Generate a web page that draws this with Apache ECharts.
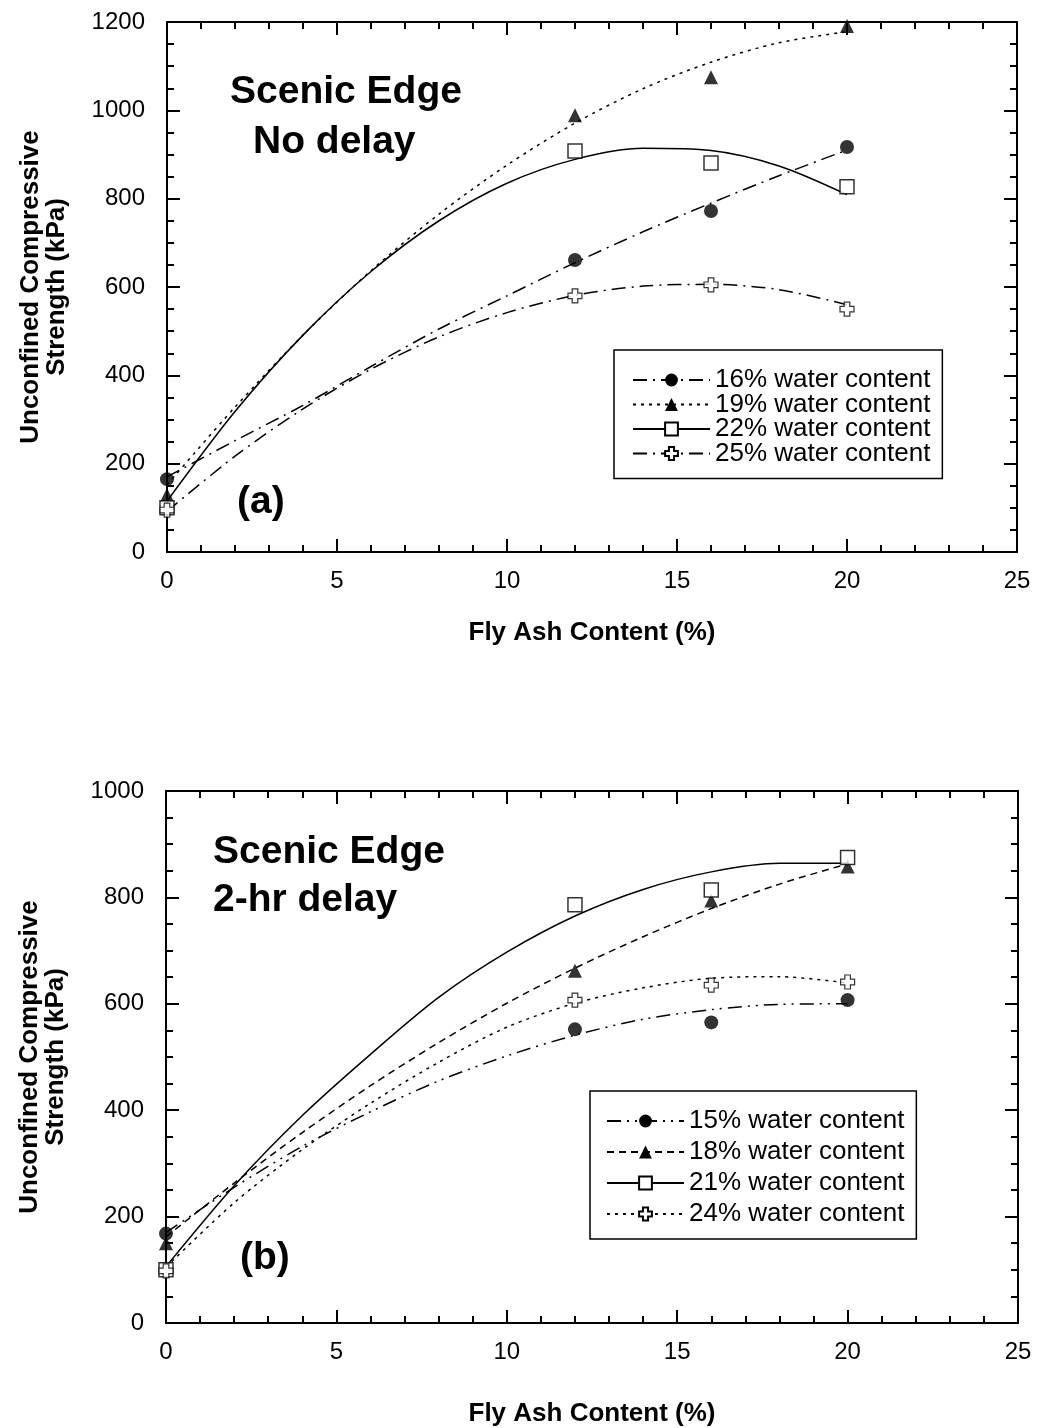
<!DOCTYPE html>
<html>
<head>
<meta charset="utf-8">
<script src="https://cdn.jsdelivr.net/npm/echarts@6/dist/echarts.min.js"></script>
<style>
  html, body { margin: 0; padding: 0; background: #fff; }
  #chart { width: 1037px; height: 1428px; }
</style>
</head>
<body>
<div id="chart"></div>
<script>
// measured points (fly ash %)
const ashContent = [0, 12, 16, 20]
const fitX = [0, 2, 4, 6, 8, 10, 12, 14, 16, 18, 20]

// (a) no delay
const noDelayNames = ['16% water content', '19% water content', '22% water content', '25% water content']
const noDelay16 = [165, 661, 772, 917]
const noDelay19 = [129, 989, 1075, 1191]
const noDelay22 = [100, 908, 881, 827]
const noDelay25 = [95, 580, 605, 550]
const noDelayFit16 = [170, 252, 332, 420, 505, 580, 655, 725, 790, 852, 910]
const noDelayFit19 = [152, 328, 491, 637, 765, 876, 971, 1049, 1109, 1153, 1178]
const noDelayFit22 = [115, 318, 491, 635, 750, 835, 889, 914, 909, 874, 809]
const noDelayFit25 = [92, 217, 324, 414, 487, 542, 581, 602, 606, 594, 560]

// (b) 2-hr delay
const delayNames = ['15% water content', '18% water content', '21% water content', '24% water content']
const delay15 = [168, 552, 565, 607]
const delay18 = [150, 662, 794, 858]
const delay21 = [100, 786, 814, 875]
const delay24 = [98, 607, 635, 641]
const delayFit15 = [170, 255, 332, 397, 455, 502, 541, 571, 589, 599, 600]
const delayFit18 = [162, 263, 358, 446, 527, 601, 667, 726, 779, 825, 863]
const delayFit21 = [106, 258, 390, 505, 612, 697, 765, 815, 848, 864, 864]
const delayFit24 = [105, 226, 326, 413, 490, 556, 601, 630, 648, 651, 639]

const font = '"Liberation Sans", Arial, sans-serif'
const crossPath = 'path://M3,0H7V3H10V7H7V10H3V7H0V3H3Z'

const markers = {
  circle: { symbol: 'circle', itemStyle: { color: '#000' } },
  triangle: { symbol: 'triangle', itemStyle: { color: '#000' } },
  square: { symbol: 'rect', itemStyle: { color: '#fff', borderColor: '#000', borderWidth: 1.5 } },
  cross: { symbol: crossPath, itemStyle: { color: '#fff', borderColor: '#000', borderWidth: 1.2 } }
}

const dashDot = [14, 6, 2, 6]
const longDashDots = [14, 6, 2, 6, 2, 6]
const dotted = [3, 5]
const dashed = [7, 5]

function zip(xs, ys) {
  return xs.map((x, i) => [x, ys[i]])
}

const axisLine = { onZero: false, lineStyle: { color: '#000', width: 2 } }
const majorTick = { inside: true, length: 13, lineStyle: { color: '#000', width: 2 } }

function makeX(gridIndex, nameGap) {
  const minor = { show: true, splitNumber: 5, length: 7, lineStyle: { color: '#000', width: 2 } }
  const common = {
    type: 'value', gridIndex, min: 0, max: 25, interval: 5,
    axisLine, axisTick: majorTick, minorTick: minor, splitLine: { show: false }
  }
  return [
    {
      ...common, position: 'bottom',
      axisLabel: { color: '#000', fontSize: 24, fontFamily: font, margin: 17 },
      name: 'Fly Ash Content (%)', nameLocation: 'middle', nameGap,
      nameTextStyle: { color: '#000', fontSize: 26, fontWeight: 'bold', fontFamily: font }
    },
    { ...common, position: 'top', axisLabel: { show: false } }
  ]
}

function makeY(gridIndex, max) {
  const minor = { show: true, splitNumber: 4, length: 7, lineStyle: { color: '#000', width: 2 } }
  const common = {
    type: 'value', gridIndex, min: 0, max, interval: 200,
    axisLine, axisTick: majorTick, minorTick: minor, splitLine: { show: false }
  }
  return [
    {
      ...common, position: 'left',
      axisLabel: { color: '#000', fontSize: 24, fontFamily: font, margin: 22, formatter: v => String(v) },
      name: 'Unconfined Compressive\nStrength (kPa)', nameLocation: 'middle', nameGap: 97,
      nameTextStyle: { color: '#000', fontSize: 26, fontWeight: 'bold', fontFamily: font, lineHeight: 26 }
    },
    { ...common, position: 'right', axisLabel: { show: false } }
  ]
}

function curve(name, axis, ys, dash, marker) {
  return {
    name, type: 'line', xAxisIndex: axis, yAxisIndex: axis,
    data: zip(fitX, ys), smooth: 0.3, showSymbol: false,
    symbol: marker.symbol, symbolSize: 14,
    itemStyle: marker.itemStyle,
    lineStyle: { color: '#000', width: 1.5, type: dash },
    silent: true, z: 2
  }
}

function points(name, axis, ys, marker) {
  return {
    name: name + ' data', type: 'scatter', xAxisIndex: axis, yAxisIndex: axis,
    data: zip(ashContent, ys), symbol: marker.symbol, symbolSize: 14,
    itemStyle: marker.itemStyle, silent: true, z: 5
  }
}

function legendFor(names, left, top, itemGap, padding) {
  return {
    orient: 'vertical', left, top, data: names,
    itemWidth: 77, itemHeight: 16, itemGap, padding,
    borderColor: '#000', borderWidth: 1.5,
    selectedMode: false,
    textStyle: { color: '#000', fontSize: 26, fontFamily: font, lineHeight: 24 }
  }
}

const chart = echarts.init(document.getElementById('chart'))

const option = {
  animation: false,
  backgroundColor: '#fff',
  grid: [
    { left: 167, top: 22, width: 850, height: 530 },
    { left: 166, top: 791, width: 852, height: 532 }
  ],
  xAxis: [...makeX(0, 68), ...makeX(1, 78)],
  yAxis: [...makeY(0, 1200), ...makeY(1, 1000)],
  legend: [
    legendFor(noDelayNames, 614, 350, -1.5, [17, 12, 12, 18]),
    legendFor(delayNames, 590, 1091, 5, [17, 12, 12, 16])
  ],
  graphic: [
    { type: 'text', left: 230, top: 73, style: { text: 'Scenic Edge', font: 'bold 39px ' + font, fill: '#000' } },
    { type: 'text', left: 253, top: 123, style: { text: 'No delay', font: 'bold 39px ' + font, fill: '#000' } },
    { type: 'text', left: 237, top: 483, style: { text: '(a)', font: 'bold 39px ' + font, fill: '#000' } },
    { type: 'text', left: 213, top: 833, style: { text: 'Scenic Edge', font: 'bold 39px ' + font, fill: '#000' } },
    { type: 'text', left: 213, top: 881, style: { text: '2-hr delay', font: 'bold 39px ' + font, fill: '#000' } },
    { type: 'text', left: 240, top: 1239, style: { text: '(b)', font: 'bold 39px ' + font, fill: '#000' } }
  ],
  series: [
    // (a) uses axis pair 0, (b) uses axis pair 2
    curve(noDelayNames[0], 0, noDelayFit16, dashDot, markers.circle),
    curve(noDelayNames[1], 0, noDelayFit19, dotted, markers.triangle),
    curve(noDelayNames[2], 0, noDelayFit22, 'solid', markers.square),
    curve(noDelayNames[3], 0, noDelayFit25, dashDot, markers.cross),
    points(noDelayNames[0], 0, noDelay16, markers.circle),
    points(noDelayNames[1], 0, noDelay19, markers.triangle),
    points(noDelayNames[2], 0, noDelay22, markers.square),
    points(noDelayNames[3], 0, noDelay25, markers.cross),

    curve(delayNames[0], 2, delayFit15, longDashDots, markers.circle),
    curve(delayNames[1], 2, delayFit18, dashed, markers.triangle),
    curve(delayNames[2], 2, delayFit21, 'solid', markers.square),
    curve(delayNames[3], 2, delayFit24, dotted, markers.cross),
    points(delayNames[0], 2, delay15, markers.circle),
    points(delayNames[1], 2, delay18, markers.triangle),
    points(delayNames[2], 2, delay21, markers.square),
    points(delayNames[3], 2, delay24, markers.cross)
  ]
}

chart.setOption(option)
</script>
</body>
</html>
